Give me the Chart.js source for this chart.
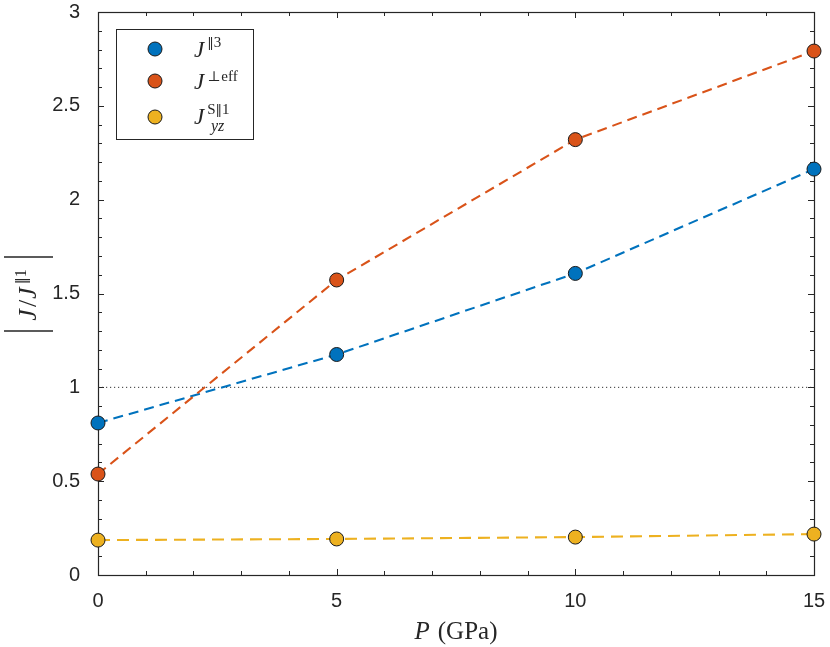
<!DOCTYPE html>
<html>
<head>
<meta charset="utf-8">
<script src="https://cdn.jsdelivr.net/npm/chart.js@4"></script>
<style>
html,body{margin:0;padding:0;background:#fff;}
#wrap{width:830px;height:647px;}
</style>
</head>
<body>
<div id="wrap"><canvas id="c" width="830" height="647"></canvas></div>
<script>
// ---- data ----
const pressures = [0, 5, 10, 15];
const jPar3 = [0.81, 1.175, 1.607, 2.163];
const jPerpEff = [0.538, 1.572, 2.320, 2.792];
const jYzS1 = [0.186, 0.192, 0.202, 0.218];
const refLineX = [0, 15];
const refLineY = [1, 1];
const xTickValues = [0, 5, 10, 15];
const yTickValues = [0, 0.5, 1, 1.5, 2, 2.5, 3];
const yTickLabels = ['0', '0.5', '1', '1.5', '2', '2.5', '3'];
const xTickLabels = ['0', '5', '10', '15'];

const BLUE = '#0072BD', ORANGE = '#D95319', YELLOW = '#EDB120';
const AX = '#262626';
const SERIF = '"Liberation Serif", "DejaVu Serif", serif';
const SYM = '"DejaVu Serif", serif';

function pts(xs, ys) { return xs.map((x, i) => ({x: x, y: ys[i]})); }

function series(label, ys, color, dash) {
  return {
    label: label, data: pts(pressures, ys),
    borderColor: color, backgroundColor: color,
    borderWidth: 2.1, borderDash: dash,
    pointRadius: 7, pointHoverRadius: 7,
    pointBorderColor: '#1a1a1a', pointBorderWidth: 1,
    pointBackgroundColor: color, clip: false, tension: 0
  };
}

function fontOf(s) { return (s.italic ? 'italic ' : '') + s.size + 'px ' + (s.fam || SERIF); }
function drawRich(ctx, x, y, segs) {
  let cx = x;
  for (const s of segs) {
    ctx.font = fontOf(s);
    const sx = s.at !== undefined ? x + s.at : cx;
    ctx.fillText(s.t, sx, y + (s.dy || 0));
    const w = ctx.measureText(s.t).width;
    if (!s.noAdvance) cx = sx + w + (s.kern || 0);
  }
  return cx - x;
}
function measureRich(ctx, segs) {
  let w = 0;
  for (const s of segs) {
    ctx.font = fontOf(s);
    if (!s.noAdvance) w += ctx.measureText(s.t).width + (s.kern || 0);
  }
  return w;
}

const framePlugin = {
  id: 'frame',
  beforeDatasetsDraw(chart) {
    const ctx = chart.ctx, a = chart.chartArea;
    const xs = chart.scales.x, ys = chart.scales.y;
    ctx.save();
    ctx.strokeStyle = AX; ctx.lineWidth = 1;
    ctx.beginPath();
    for (let v = 0; v <= 15; v++) {
      const px = Math.round(xs.getPixelForValue(v)) + 0.5;
      const len = (v % 5 === 0) ? 6 : 4;
      ctx.moveTo(px, a.bottom); ctx.lineTo(px, a.bottom - len);
      ctx.moveTo(px, a.top); ctx.lineTo(px, a.top + len);
    }
    for (let k = 0; k <= 30; k++) {
      const py = Math.round(ys.getPixelForValue(k / 10)) + 0.5;
      const len = (k % 5 === 0) ? 6 : 4;
      ctx.moveTo(a.left, py); ctx.lineTo(a.left + len, py);
      ctx.moveTo(a.right, py); ctx.lineTo(a.right - len, py);
    }
    ctx.stroke();
    ctx.lineWidth = 1.2;
    ctx.strokeRect(Math.round(a.left) + 0.5, Math.round(a.top) + 0.5,
                   Math.round(a.right - a.left), Math.round(a.bottom - a.top));
    ctx.restore();
  },
  afterDraw(chart) {
    const ctx = chart.ctx, a = chart.chartArea;
    ctx.save();
    ctx.fillStyle = AX;
    ctx.textBaseline = 'alphabetic';
    // x title
    const xsegs = [{t: 'P', size: 25, italic: true, kern: 8}, {t: '(GPa)', size: 25}];
    const xw = measureRich(ctx, xsegs);
    const xc = (a.left + a.right) / 2;
    drawRich(ctx, xc - xw / 2, 639, xsegs);
    // y title (rotated)
    ctx.translate(0, 294);
    ctx.rotate(-Math.PI / 2);
    const ysegs = [
      {t: 'J', size: 26, italic: true, kern: 2},
      {t: '/', size: 26, kern: 1},
      {t: 'J', size: 26, italic: true, kern: 3},
      {t: '\u2016', size: 14, dy: -10, fam: SYM, kern: 0},
      {t: '1', size: 16, dy: -10}
    ];
    const yw = measureRich(ctx, ysegs);
    drawRich(ctx, -yw / 2 - 1, 36, ysegs);
    ctx.strokeStyle = AX; ctx.lineWidth = 1.3;
    ctx.beginPath();
    ctx.moveTo(-37, 4); ctx.lineTo(-37, 53);
    ctx.moveTo(37, 4); ctx.lineTo(37, 53);
    ctx.stroke();
    ctx.restore();

    // legend
    ctx.save();
    ctx.fillStyle = '#fff';
    ctx.fillRect(116, 29, 137, 110);
    ctx.strokeStyle = AX; ctx.lineWidth = 1;
    ctx.strokeRect(116.5, 29.5, 137, 110);
    const rows = [
      {c: BLUE, y: 49, base: 57, segs: [
        {t: 'J', size: 23, italic: true, kern: 3},
        {t: '\u2016', size: 13, dy: -10, fam: SYM},
        {t: '3', size: 15, dy: -10}]},
      {c: ORANGE, y: 81, base: 89, segs: [
        {t: 'J', size: 23, italic: true, kern: 3},
        {t: '\u22a5', size: 14, dy: -8, fam: SYM, kern: 1},
        {t: 'eff', size: 15, dy: -8}]},
      {c: YELLOW, y: 117, base: 124, segs: [
        {t: 'J', size: 23, italic: true, kern: 3},
        {t: 'S', size: 15, dy: -10},
        {t: '\u2016', size: 13, dy: -10, fam: SYM},
        {t: '1', size: 15, dy: -10},
        {t: 'yz', size: 16, italic: true, dy: 7, at: 17}]}
    ];
    for (const r of rows) {
      ctx.beginPath();
      ctx.arc(155, r.y, 7, 0, Math.PI * 2);
      ctx.fillStyle = r.c; ctx.fill();
      ctx.strokeStyle = '#1a1a1a'; ctx.lineWidth = 1; ctx.stroke();
      ctx.fillStyle = AX;
      drawRich(ctx, 194, r.base, r.segs);
    }
    ctx.restore();
  }
};

const refLine = {
  label: 'ref', data: pts(refLineX, refLineY),
  borderColor: '#333', borderWidth: 1, borderDash: [1.2, 2.8],
  pointRadius: 0, pointHoverRadius: 0, order: 10
};

new Chart(document.getElementById('c'), {
  type: 'line',
  data: {
    datasets: [
      Object.assign(series('J||3', jPar3, BLUE, [10, 6]), {order: 3}),
      Object.assign(series('Jperp eff', jPerpEff, ORANGE, [10, 6]), {order: 2}),
      Object.assign(series('Jyz S||1', jYzS1, YELLOW, [12, 7]), {order: 1}),
      refLine
    ]
  },
  plugins: [framePlugin],
  options: {
    responsive: false, animation: false, devicePixelRatio: 1,
    layout: {padding: {top: 12, right: 16, left: 0, bottom: 0}},
    plugins: {legend: {display: false}, tooltip: {enabled: false}},
    events: [],
    scales: {
      x: {
        type: 'linear', min: 0, max: 15,
        grid: {display: false}, border: {display: false},
        afterBuildTicks: s => { s.ticks = xTickValues.map(v => ({value: v})); },
        ticks: {
          font: {family: '"Liberation Sans", Arial, sans-serif', size: 20},
          color: AX, padding: 6, maxRotation: 0,
          callback: (v) => xTickLabels[xTickValues.indexOf(v)]
        },
        afterFit: s => { s.height = 72; s.paddingLeft = 0; s.paddingRight = 0; }
      },
      y: {
        type: 'linear', min: 0, max: 3,
        grid: {display: false}, border: {display: false},
        afterBuildTicks: s => { s.ticks = yTickValues.map(v => ({value: v})); },
        ticks: {
          font: {family: '"Liberation Sans", Arial, sans-serif', size: 20},
          color: AX, padding: 10,
          callback: (v) => yTickLabels[yTickValues.indexOf(v)]
        },
        afterFit: s => { s.width = 98; s.paddingTop = 0; s.paddingBottom = 0; }
      }
    }
  }
});
</script>
</body>
</html>
